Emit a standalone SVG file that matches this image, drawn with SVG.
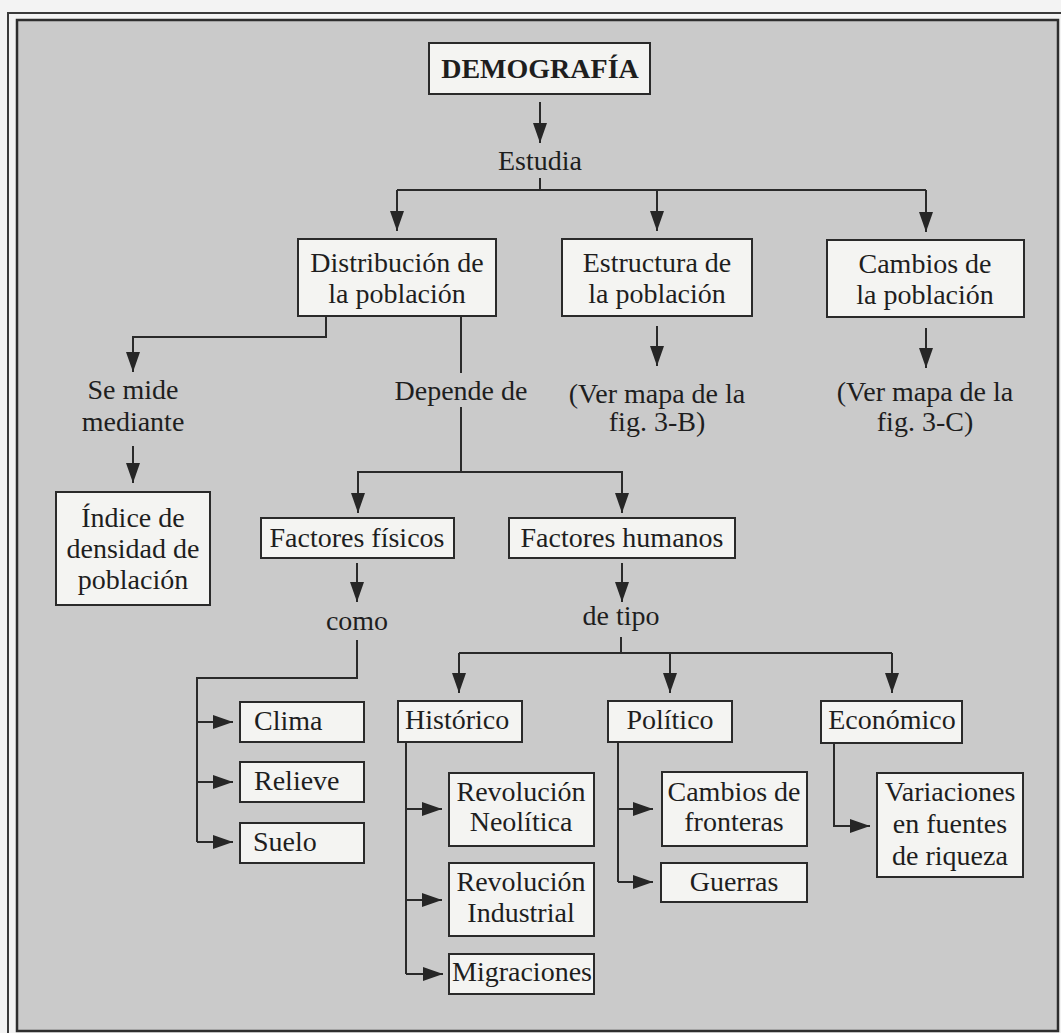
<svg xmlns="http://www.w3.org/2000/svg" width="1061" height="1033" viewBox="0 0 1061 1033">
<defs>
<marker id="ah" markerUnits="userSpaceOnUse" markerWidth="20" markerHeight="14" refX="20" refY="7" orient="auto" viewBox="0 0 20 14">
<path d="M0,0 L20,7 L0,14 z" fill="#262626"/>
</marker>
<style>
.box{fill:#f4f4f2;stroke:#2a2a2a;stroke-width:2}
.t{font-family:"Liberation Serif","Times New Roman",serif;font-size:28px;fill:#1e1e1e}
.c{text-anchor:middle}
.ln{fill:none;stroke:#2a2a2a;stroke-width:2}
.ar{fill:none;stroke:#2a2a2a;stroke-width:2;marker-end:url(#ah)}
</style>
</defs>
<rect x="0" y="0" width="1061" height="1033" fill="#f3f3f3"/>
<rect x="8" y="13" width="1060" height="1030" fill="none" stroke="#3a3a3a" stroke-width="2"/>
<rect x="17" y="20" width="1041" height="1011" fill="#cacaca" stroke="#2e2e2e" stroke-width="2.5"/>

<g id="connectors">
<line class="ar" x1="540" y1="102" x2="540" y2="143"/>
<polyline class="ln" points="540,178 540,190"/>
<line class="ln" x1="397" y1="190" x2="926" y2="190"/>
<line class="ar" x1="397" y1="190" x2="397" y2="231"/>
<line class="ar" x1="657" y1="190" x2="657" y2="231"/>
<line class="ar" x1="926" y1="190" x2="926" y2="232"/>
<line class="ar" x1="657" y1="326" x2="657" y2="366"/>
<line class="ar" x1="926" y1="328" x2="926" y2="368"/>
<polyline class="ar" points="326,316 326,337 133,337 133,372"/>
<line class="ar" x1="133" y1="446" x2="133" y2="483"/>
<line class="ln" x1="461" y1="316" x2="461" y2="373"/>
<line class="ln" x1="461" y1="407" x2="461" y2="472"/>
<polyline class="ar" points="461,472 358,472 358,513"/>
<polyline class="ar" points="461,472 622,472 622,513"/>
<line class="ar" x1="357" y1="563" x2="357" y2="602"/>
<line class="ar" x1="622" y1="563" x2="622" y2="602"/>
<polyline class="ln" points="357,640 357,678 197,678 197,842"/>
<line class="ar" x1="197" y1="722" x2="233" y2="722"/>
<line class="ar" x1="197" y1="782" x2="233" y2="782"/>
<line class="ar" x1="197" y1="842" x2="233" y2="842"/>
<line class="ln" x1="621" y1="637" x2="621" y2="653"/>
<line class="ln" x1="459" y1="653" x2="892" y2="653"/>
<line class="ar" x1="459" y1="653" x2="459" y2="693"/>
<line class="ar" x1="670" y1="653" x2="670" y2="693"/>
<line class="ar" x1="892" y1="653" x2="892" y2="693"/>
<polyline class="ln" points="406,742 406,974"/>
<line class="ar" x1="406" y1="809" x2="442" y2="809"/>
<line class="ar" x1="406" y1="900" x2="442" y2="900"/>
<line class="ar" x1="406" y1="974" x2="443" y2="974"/>
<polyline class="ln" points="618,742 618,882"/>
<line class="ar" x1="618" y1="809" x2="653" y2="809"/>
<line class="ar" x1="618" y1="882" x2="653" y2="882"/>
<polyline class="ar" points="834,743 834,826 870,826"/>
</g>

<g id="demografia">
<rect class="box" x="429" y="43" width="221" height="51"/>
<text class="t c" x="540" y="78" font-weight="bold">DEMOGRAFÍA</text>
</g>
<g id="estudia"><text class="t c" x="540" y="170">Estudia</text></g>

<g id="distribucion">
<rect class="box" x="298" y="239" width="198" height="77"/>
<text class="t c" x="397" y="272">Distribución de</text>
<text class="t c" x="397" y="303">la población</text>
</g>
<g id="estructura">
<rect class="box" x="562" y="239" width="190" height="77"/>
<text class="t c" x="657" y="272">Estructura de</text>
<text class="t c" x="657" y="303">la población</text>
</g>
<g id="cambios">
<rect class="box" x="827" y="240" width="197" height="77"/>
<text class="t c" x="925" y="273">Cambios de</text>
<text class="t c" x="925" y="304">la población</text>
</g>
<g id="verB">
<text class="t c" x="657" y="403">(Ver mapa de la</text>
<text class="t c" x="657" y="431">fig. 3-B)</text>
</g>
<g id="verC">
<text class="t c" x="925" y="401">(Ver mapa de la</text>
<text class="t c" x="925" y="431">fig. 3-C)</text>
</g>
<g id="semide">
<text class="t c" x="133" y="399">Se mide</text>
<text class="t c" x="133" y="431">mediante</text>
</g>
<g id="indice">
<rect class="box" x="56" y="492" width="154" height="113"/>
<text class="t c" x="133" y="527">Índice de</text>
<text class="t c" x="133" y="558">densidad de</text>
<text class="t c" x="133" y="589">población</text>
</g>
<g id="depende"><text class="t c" x="461" y="400">Depende de</text></g>

<g id="fisicos">
<rect class="box" x="261" y="518" width="193" height="40"/>
<text class="t c" x="357" y="547">Factores físicos</text>
</g>
<g id="humanos">
<rect class="box" x="509" y="518" width="226" height="40"/>
<text class="t c" x="622" y="547">Factores humanos</text>
</g>
<g id="como"><text class="t c" x="357" y="630">como</text></g>
<g id="detipo"><text class="t c" x="621" y="625">de tipo</text></g>

<g id="clima">
<rect class="box" x="240" y="702" width="124" height="40"/>
<text class="t" x="254" y="730">Clima</text>
</g>
<g id="relieve">
<rect class="box" x="240" y="762" width="124" height="40"/>
<text class="t" x="254" y="790">Relieve</text>
</g>
<g id="suelo">
<rect class="box" x="240" y="823" width="124" height="40"/>
<text class="t" x="253" y="851">Suelo</text>
</g>

<g id="historico">
<rect class="box" x="398" y="701" width="124" height="41"/>
<text class="t" x="405" y="729">Histórico</text>
</g>
<g id="politico">
<rect class="box" x="608" y="701" width="124" height="41"/>
<text class="t c" x="670" y="729">Político</text>
</g>
<g id="economico">
<rect class="box" x="821" y="701" width="141" height="42"/>
<text class="t c" x="892" y="729">Económico</text>
</g>

<g id="neolitica">
<rect class="box" x="449" y="773" width="145" height="73"/>
<text class="t c" x="521" y="801">Revolución</text>
<text class="t c" x="521" y="831">Neolítica</text>
</g>
<g id="industrial">
<rect class="box" x="449" y="863" width="145" height="73"/>
<text class="t c" x="521" y="891">Revolución</text>
<text class="t c" x="521" y="922">Industrial</text>
</g>
<g id="migraciones">
<rect class="box" x="449" y="954" width="145" height="40"/>
<text class="t c" x="522" y="981">Migraciones</text>
</g>
<g id="fronteras">
<rect class="box" x="662" y="772" width="145" height="74"/>
<text class="t c" x="734" y="801">Cambios de</text>
<text class="t c" x="734" y="831">fronteras</text>
</g>
<g id="guerras">
<rect class="box" x="661" y="863" width="146" height="39"/>
<text class="t c" x="734" y="891">Guerras</text>
</g>
<g id="variaciones">
<rect class="box" x="877" y="773" width="146" height="104"/>
<text class="t c" x="950" y="801">Variaciones</text>
<text class="t c" x="950" y="833">en fuentes</text>
<text class="t c" x="950" y="865">de riqueza</text>
</g>
</svg>
